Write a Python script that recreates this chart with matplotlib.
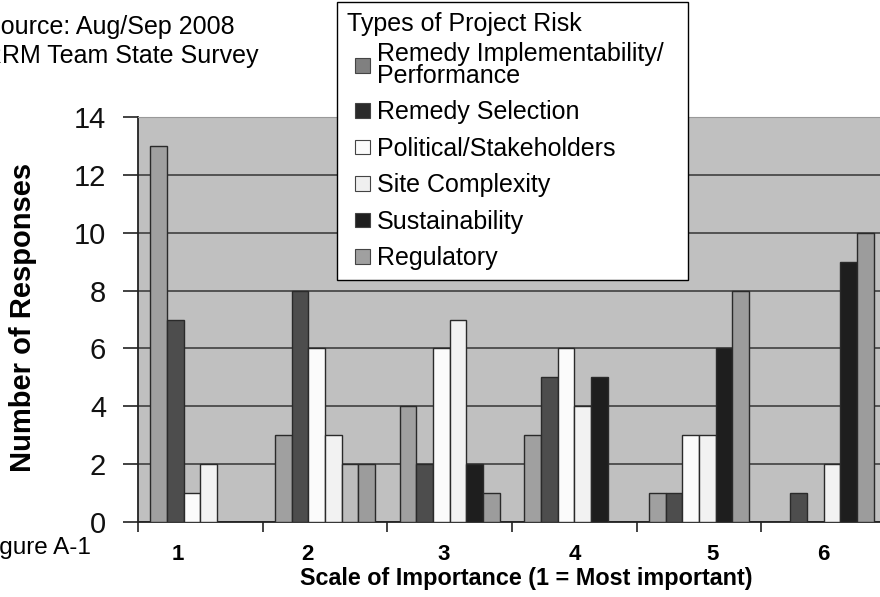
import matplotlib.pyplot as plt
import numpy as np
from matplotlib.lines import Line2D
from matplotlib.legend_handler import HandlerPatch

plt.rcParams['font.family'] = ['Liberation Sans', 'DejaVu Sans']

# survey data: responses per risk type for each importance rank
scale = ['1', '2', '3', '4', '5', '6']
risk_types = ['Remedy Implementability/\nPerformance', 'Remedy Selection',
              'Political/Stakeholders', 'Site Complexity', 'Sustainability',
              'Regulatory']
implement = [13, 3, 4, 3, 1, 0]
selection = [7, 8, 2, 5, 1, 1]
political = [1, 6, 6, 6, 3, 0]
site = [2, 3, 7, 4, 3, 2]
sustain = [0, 2, 2, 5, 6, 9]
regulatory = [0, 2, 1, 0, 8, 10]
yticks = [0, 2, 4, 6, 8, 10, 12, 14]

series = [implement, selection, political, site, sustain, regulatory]
bar_colors = ['#a0a0a0', '#4d4d4d', '#fbfbfb', '#f2f2f2', '#1e1e1e', '#9c9c9c']
swatch_colors = ['#808080', '#2a2a2a', '#fbfbfb', '#efefef', '#1e1e1e', '#a0a0a0']

fig = plt.figure(figsize=(8.8, 5.97), dpi=100)
# plot area runs past the right edge like the cropped original
ax = fig.add_axes([138/880, 75/597, 748/880, 405/597])
ax.set_facecolor('#c0c0c0')

x = np.arange(1, len(scale) + 1)
bw = 0.8 / len(series)
for i, vals in enumerate(series):
    bars = ax.bar(x + (i - 2.5) * bw, vals, bw, color=bar_colors[i],
                  edgecolor='#2a2a2a', linewidth=1.0, zorder=3)
    if i == 4:
        # this bar shows up grey in the source scan
        bars[1].set_facecolor('#bdbdbd')

ax.set_xlim(0.5, 6.5)
ax.set_ylim(0, 14)
ax.set_yticks(yticks)
ax.yaxis.grid(True, color='#4a4a4a', linewidth=1.3, zorder=1)
ax.set_axisbelow(True)
ax.tick_params(axis='y', labelsize=21, length=11, width=1.2, pad=12,
               color='#222222', labelcolor='#111111')

# ticks between groups, labels near group centres
ax.set_xticks(np.arange(0.5, 7.0, 1.0))
ax.set_xticklabels([])
label_nudge = [-0.18, -0.14, -0.05, 0.0, 0.11, 0.0]
ax.set_xticks(x + np.array(label_nudge), labels=scale, minor=True)
ax.tick_params(axis='x', which='major', length=7, width=1.2, color='#222222')
ax.tick_params(axis='x', which='minor', length=0, pad=16, labelsize=16)
for t in ax.get_xticklabels(minor=True):
    t.set_fontweight('bold')

ax.set_xlabel('Scale of Importance (1 = Most important)', fontsize=16.8,
              fontweight='bold', labelpad=1)
ax.xaxis.label.set_x((526 - 138) / 748)
for s in ['left', 'bottom']:
    ax.spines[s].set_color('#222222')
    ax.spines[s].set_linewidth(1.3)
ax.spines['top'].set_color('#999999')
ax.spines['right'].set_visible(False)

fig.text(23/880, 1 - 317/597, 'Number of Responses', rotation=90,
         fontsize=21, fontweight='bold', ha='center', va='center')
fig.text(-16/880, 1 - 15/597, 'Source: Aug/Sep 2008\nRRM Team State Survey',
         fontsize=18, ha='left', va='top', linespacing=1.25)
fig.text(-21/880, 1 - 548/597, 'Figure A-1', fontsize=17.5, ha='left',
         va='center')


def indented_square(legend, orig_handle, xdescent, ydescent, width, height,
                    fontsize):
    side = 0.58 * fontsize
    return plt.Rectangle((width - side - xdescent, (height - side) / 2 - ydescent),
                         side, side)


handles = [plt.Rectangle((0, 0), 1, 1, facecolor=c, edgecolor='#444444',
                         linewidth=0.8) for c in swatch_colors]
labels = [risk_types[0].replace('/\n', '/  \n')] + risk_types[1:]
leg = fig.legend(handles, labels, loc='upper left',
                 bbox_to_anchor=(337/880, 1 - 2/597), borderaxespad=0,
                 title='Types of Project Risk', fontsize=18, title_fontsize=18,
                 alignment='left', frameon=True, fancybox=False,
                 edgecolor='black', framealpha=1, handlelength=0.9,
                 handleheight=0.6, handletextpad=0.3, labelspacing=0.5,
                 borderpad=0.4,
                 handler_map={plt.Rectangle: HandlerPatch(patch_func=indented_square)})
leg.get_frame().set_linewidth(1.0)
# tighter gap between the title and the first entry
leg._legend_box.sep = 4
for t in leg.get_texts():
    t.set_linespacing(0.9)

# underline the legend title
fig.canvas.draw()
bb = leg.get_title().get_window_extent()
W, H = fig.bbox.width, fig.bbox.height
fig.add_artist(Line2D([bb.x0 / W, bb.x1 / W], [(bb.y0 + 1) / H] * 2,
                      color='black', linewidth=1.2))

fig.savefig('out.png', dpi=100)
